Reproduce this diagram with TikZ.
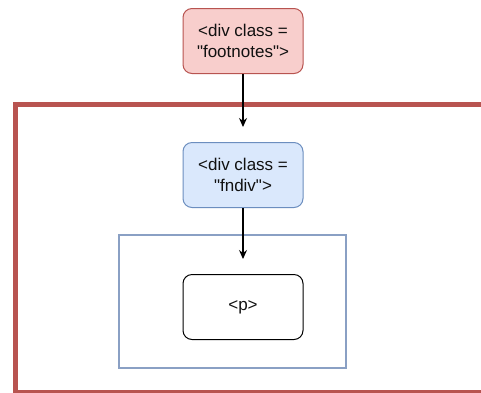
\documentclass[tikz,border=0pt]{standalone}
\usepackage{fontspec}
\setmainfont{Liberation Sans}
\usetikzlibrary{arrows.meta}
\definecolor{redstroke}{HTML}{B85450}
\definecolor{redfill}{HTML}{F8CECC}
\definecolor{bluestroke}{HTML}{6C8EBF}
\definecolor{bluefill}{HTML}{DAE8FC}
\definecolor{framecol}{HTML}{8AA0C4}
\definecolor{txt}{HTML}{111111}
\tikzset{
  box/.style={rounded corners=9pt, minimum width=120pt, minimum height=65pt, line width=1pt, align=center, text=txt, font=\fontsize{17pt}{21pt}\selectfont, inner sep=0pt},
  conn/.style={line width=1.2pt, -{Stealth[length=9pt,width=8pt]}}
}
\begin{document}
\begin{tikzpicture}[x=1pt,y=-1pt]
\useasboundingbox (0,0) rectangle (481,392);
\clip (0,0) rectangle (481,392);
\fill[white] (0,0) rectangle (481,392);
\node[draw=redstroke, line width=5pt, minimum width=500pt, minimum height=288pt, anchor=north west, inner sep=0pt] (outer) at (13,102) {};
\node[draw=framecol, line width=2pt, minimum width=227pt, minimum height=133pt, anchor=north west, inner sep=0pt] (frame) at (118,234) {};
\node[box, draw=redstroke, fill=redfill] (foot) at (243,41) {<div class =\\\textquotedbl footnotes\textquotedbl>};
\node[box, draw=bluestroke, fill=bluefill] (fndiv) at (243,175) {<div class =\\\textquotedbl fndiv\textquotedbl>};
\node[box, draw=black, fill=white] (p) at (243,307) {<p>};
\coordinate (t1) at (243,127);
\coordinate (t2) at (243,259);
\draw[conn] (foot) -- (t1);
\draw[conn] (fndiv) -- (t2);
\end{tikzpicture}
\end{document}
